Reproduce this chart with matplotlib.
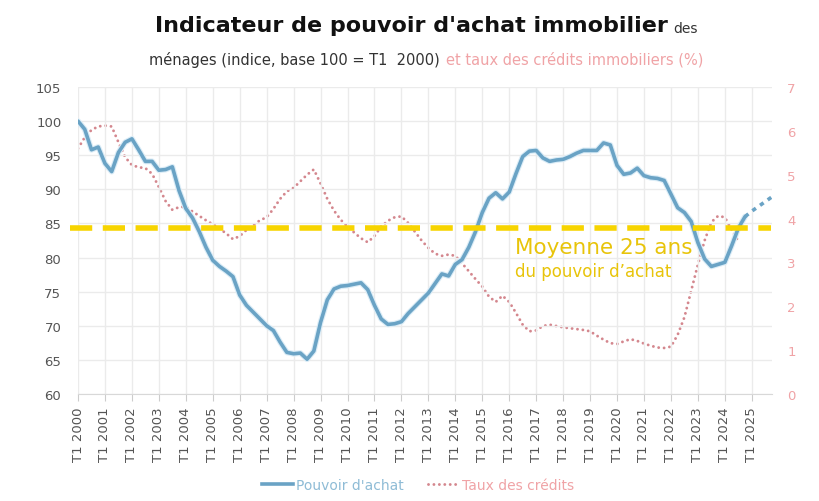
import matplotlib
matplotlib.use("Agg")
import matplotlib.pyplot as plt
import numpy as np
from matplotlib.lines import Line2D

# ---- data ----
start_year = 2000.0
pouvoir_achat = [
    100.0, 98.8, 95.8, 96.2, 93.8, 92.6, 95.4, 96.9, 97.4, 95.8, 94.1, 94.1,
    92.8, 92.9, 93.3, 89.8, 87.2, 85.8, 83.8, 81.5, 79.6, 78.7, 78.0, 77.2,
    74.5, 73.0, 72.0, 71.0, 70.0, 69.3, 67.6, 66.1, 65.9, 66.0, 65.1, 66.3,
    70.5, 73.8, 75.4, 75.8, 75.9, 76.1, 76.3, 75.3, 73.0, 71.0, 70.2, 70.3,
    70.6, 71.8, 72.8, 73.8, 74.8, 76.2, 77.6, 77.3, 79.0, 79.7, 81.5, 83.8,
    86.6, 88.7, 89.5, 88.6, 89.6, 92.3, 94.8, 95.6, 95.7, 94.6, 94.1, 94.3,
    94.4, 94.8, 95.3, 95.7, 95.7, 95.7, 96.8, 96.5, 93.5, 92.2, 92.4, 93.1,
    92.0, 91.7, 91.6, 91.3, 89.3, 87.3, 86.6, 85.3, 82.2, 79.8, 78.7, 79.0,
    79.3, 81.7, 84.3, 86.0,
]
projection = [86.0, 86.8, 87.5, 88.2, 88.9]
taux_credits = [
    5.60, 5.85, 6.02, 6.10, 6.12, 6.10, 5.74, 5.40, 5.22, 5.17, 5.15, 5.02,
    4.72, 4.40, 4.20, 4.26, 4.27, 4.16, 4.06, 3.96, 3.87, 3.77, 3.66, 3.53,
    3.60, 3.74, 3.85, 3.96, 4.03, 4.22, 4.45, 4.62, 4.70, 4.85, 5.00, 5.12,
    4.80, 4.45, 4.18, 3.97, 3.82, 3.68, 3.55, 3.46, 3.60, 3.82, 3.95, 4.03,
    4.05, 3.90, 3.70, 3.50, 3.33, 3.20, 3.15, 3.18, 3.15, 2.98, 2.80, 2.62,
    2.45, 2.22, 2.10, 2.24, 2.10, 1.85, 1.58, 1.43, 1.45, 1.55, 1.58, 1.55,
    1.52, 1.50, 1.48, 1.46, 1.43, 1.33, 1.24, 1.16, 1.14, 1.20, 1.25, 1.21,
    1.15, 1.10, 1.06, 1.05, 1.08, 1.35, 1.75, 2.35, 2.95, 3.50, 3.92, 4.06,
    4.03, 3.75, 3.48,
]
moyenne_25_ans = 84.3
year_ticks = list(range(2000, 2026))
year_labels = [f"T1 {y}" for y in year_ticks]
left_ticks = [60, 65, 70, 75, 80, 85, 90, 95, 100, 105]
right_ticks = [0, 1, 2, 3, 4, 5, 6, 7]

x_pa = start_year + 0.25 * np.arange(len(pouvoir_achat))
x_proj = x_pa[-1] + 0.25 * np.arange(len(projection))
x_tc = start_year + 0.25 * np.arange(len(taux_credits))

# ---- style ----
BLUE = "#6aa3c5"
RED = "#d4878e"
PINK_TXT = "#f0a3a6"
GOLD = "#f7d400"
GOLD_TXT = "#e8c40a"
GRID = "#ebebeb"
TICK = "#555555"

plt.rcParams['font.family'] = ['DejaVu Sans']

fig = plt.figure(figsize=(8.2, 5.02), dpi=100)
ax = fig.add_axes([78 / 820, 1 - 395 / 502, (772 - 78) / 820, (395 - 88) / 502])
ax2 = ax.twinx()

ax.set_xlim(2000, 2025.75)
ax.set_ylim(60, 105)
ax2.set_ylim(0, 7)

ax.set_xticks(year_ticks)
ax.set_xticklabels(year_labels, rotation=90, fontsize=9.5, color=TICK)
ax.set_yticks(left_ticks)
ax.tick_params(axis='y', length=0, labelsize=9.5, labelcolor=TICK, pad=12)
ax.tick_params(axis='x', length=5, color="#cccccc", pad=4)
ax2.set_yticks(right_ticks)
ax2.tick_params(axis='y', length=0, labelsize=9.5, labelcolor=PINK_TXT, pad=11)

ax.grid(True, color=GRID, linewidth=1)
ax.set_axisbelow(True)
for a in (ax, ax2):
    for s in ("top", "right", "left"):
        a.spines[s].set_visible(False)
    a.spines["bottom"].set_color("#d8d8d8")
ax2.spines["bottom"].set_visible(False)

# glow + line
ax.plot(x_pa, pouvoir_achat, color="#dcedf7", linewidth=4.2, solid_capstyle='round', zorder=3)
ax.plot(x_pa, pouvoir_achat, color=BLUE, linewidth=2.6, solid_capstyle='round', zorder=4)
ax.plot(x_proj, projection, color=BLUE, linewidth=2.6, linestyle=(0, (1.2, 1.4)), zorder=4)

ax2.plot(x_tc, taux_credits, color=RED, linewidth=2.1, linestyle=(0, (0.01, 1.85)),
         dash_capstyle='round', zorder=3)

ax.plot([1999.7, 2025.7], [moyenne_25_ans, moyenne_25_ans], color=GOLD, linewidth=4,
        linestyle=(0, (4.0, 1.9)), clip_on=False, zorder=5)
ax.set_zorder(ax2.get_zorder() + 1)
ax.patch.set_visible(False)

ax.text(2016.2, 81.6, "Moyenne 25 ans", color=GOLD_TXT, fontsize=15.5, va='center', ha='left', zorder=6)
ax.text(2016.2, 78.0, "du pouvoir d\u2019achat", color=GOLD_TXT, fontsize=12, va='center', ha='left', zorder=6)

# title
fig.text(668 / 820, 1 - 26 / 502, "Indicateur de pouvoir d'achat immobilier", ha='right', va='center',
         fontsize=16, fontweight='bold', color="#111111")
fig.text(673 / 820, 1 - 29 / 502, "des", ha='left', va='center', fontsize=10, color="#333333")
fig.text(440 / 820, 1 - 60 / 502, "ménages (indice, base 100 = T1  2000)", ha='right', va='center',
         fontsize=10.5, color="#333333")
fig.text(446 / 820, 1 - 60 / 502, "et taux des crédits immobiliers (%)", ha='left', va='center',
         fontsize=10.5, color=PINK_TXT)

# legend
handles = [Line2D([], [], color=BLUE, linewidth=2.6),
           Line2D([], [], color=RED, linewidth=2.1, linestyle=(0, (0.01, 1.85)), dash_capstyle='round')]
leg = fig.legend(handles, ["Pouvoir d'achat", "Taux des crédits"], loc='center',
                 bbox_to_anchor=(418 / 820, 1 - 486 / 502), ncol=2, frameon=False,
                 fontsize=10, handlelength=2.2, handletextpad=0.2, columnspacing=1.8)
leg.get_texts()[0].set_color("#8fbcd6")
leg.get_texts()[1].set_color(PINK_TXT)

fig.savefig("out.png", dpi=100, facecolor="white")
